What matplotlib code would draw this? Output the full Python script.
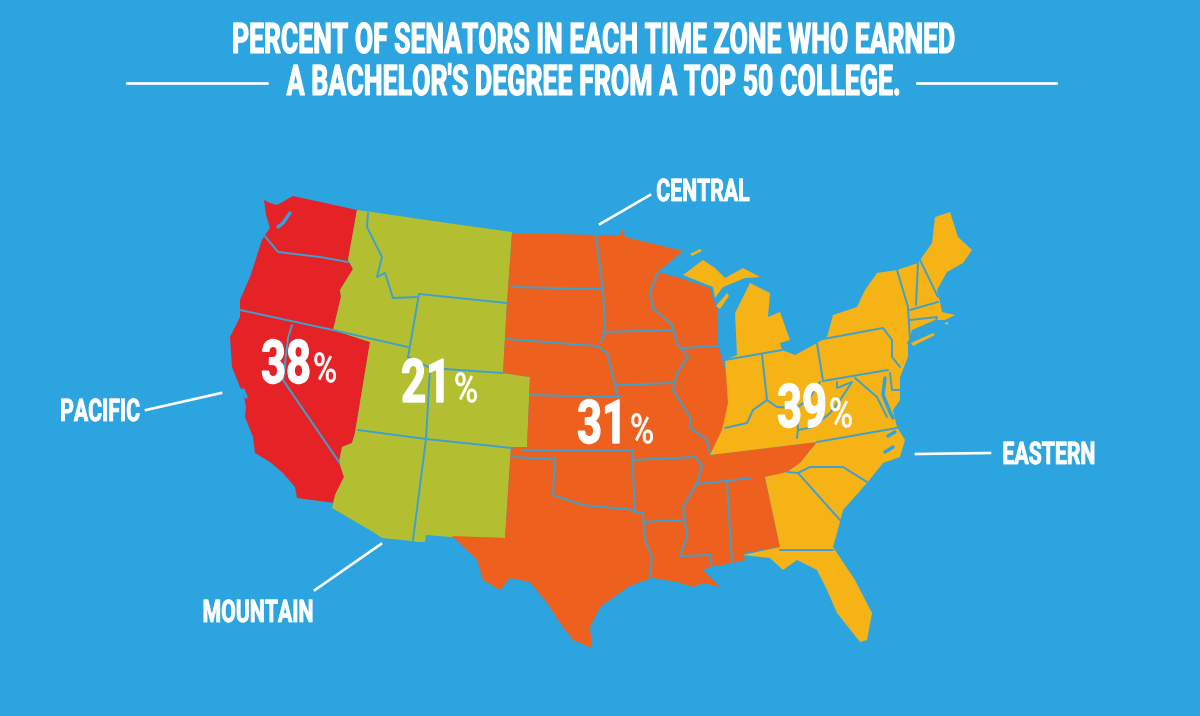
import matplotlib
matplotlib.use("Agg")
import matplotlib.pyplot as plt
from matplotlib.patches import Polygon
from matplotlib.patheffects import AbstractPathEffect
from matplotlib.text import Text
from matplotlib.transforms import Affine2D, Bbox

plt.rcParams['font.family'] = ['Roboto', 'DejaVu Sans']

BG = '#2ba4e0'
BORDER = '#3fa0cf'
RED = '#e52226'
GREEN = '#b3bf30'
ORANGE = '#ee601e'
YELLOW = '#f5b316'

# outlines in image pixels
pacific = [(264,200),(270,203),(277,205),(293,196),(357,210),(348,260),(353,269),(340,290),(341,297),(333,330),(370,342),
           (355,433),(352,443),(342,447),(339,462),(344,477),(335,495),(335,503),(297,498),(295,487),
           (283,473),(270,462),(255,453),(253,437),(245,417),(246,407),(243,392),(240,387),(232,367),(230,337),
           (240,317),(240,300),(250,277),(262,240),(265,235),(270,228),(266,215)]
mountain = [(357,210),(372,212),(440,222),(512,232),(507,303),(503,373),(530,377),(527,447),(511,447),
            (505,538),(450,537),(426,535),(425,542),(417,542),(412,541),(382,538),(373,532),(332,508),
            (335,495),(344,477),(339,462),(342,447),(352,443),(355,433),(370,342),(333,330),(341,297),
            (340,290),(353,269),(348,260)]
central = [(512,233),(597,235),(620,235),(622,228),(625,237),(650,243),(683,251),(658,272),(683,279),
           (710,288),(713,298),(717,308),(718,345),(727,377),(728,413),(723,428),(710,455),(817,442),
           (800,463),(787,472),(765,477),(780,547),(743,553),(745,560),(733,563),(710,567),(703,570),
           (713,580),(720,587),(703,583),(693,587),(677,582),(653,578),(640,582),(628,587),(600,607),(590,627),
           (592,648),(573,640),(560,623),(547,603),(530,582),(510,578),(500,590),(483,580),(477,560),
           (452,536),(505,538),(511,447),(527,447),(530,377),(503,373),(507,303)]
eastern = [(725,360),(737,355),(735,313),(750,283),(770,293),(768,317),(780,312),(790,340),(780,343),
           (782,350),(795,355),(817,343),(827,337),(833,315),(857,307),(865,290),(877,273),(897,270),
           (918,263),(932,243),(935,217),(950,212),(958,237),(972,250),(963,263),(947,272),(937,290),
           (940,302),(942,312),(955,315),(945,320),(935,320),(912,330),(908,343),(908,357),(900,377),
           (900,400),(893,410),(897,427),(905,440),(900,457),(883,463),(867,483),(843,510),(837,533),
           (833,547),(855,580),(872,613),(867,640),(860,642),(837,613),(827,590),(817,570),(797,560),
           (783,570),(770,558),(743,555),(780,547),(765,477),(787,472),(800,463),(817,442),(710,455),
           (722,430),(728,403)]
upper_michigan = [(683,275),(703,260),(715,268),(725,278),(743,268),(760,277),(745,278),(723,287),(715,298),(713,287)]
door_county = [(716,306),(727,293),(729,296),(720,309)]
isle_royale = [(690,254),(700,249),(702,251),(692,256)]
long_island = [(911,343),(933,333),(935,335),(913,346)]
nantucket = [(944,323),(948,322),(948,325)]

# state borders
pacific_lines = [
    [(264,235),(278,252),(320,257),(348,262)],
    [(240,310),(333,330)],
    [(292,325),(288,338),(283,380),(339,462)],
]
mountain_lines = [
    [(368,213),(367,227),(382,257),(377,277),(385,273),(393,298),(417,297)],
    [(419,294),(507,303)],
    [(419,294),(408,357)],
    [(333,330),(408,347)],
    [(408,357),(430,368),(503,373)],
    [(430,368),(426,439)],
    [(358,430),(426,439),(512,448)],
    [(426,439),(413,540)],
]
central_lines = [
    [(596,235),(603,290),(605,330),(601,343)],
    [(512,287),(603,289)],
    [(507,339),(597,346),(607,353),(618,397)],
    [(530,395),(620,397)],
    [(603,332),(672,330)],
    [(617,385),(672,383)],
    [(658,272),(650,292),(653,308),(672,325),(677,343),(688,357),(677,373),(673,390),(690,417),(690,428),(707,440),(710,453)],
    [(682,348),(718,346)],
    [(522,450),(632,450),(635,512),(643,513)],
    [(632,460),(695,457),(702,465),(697,483)],
    [(512,457),(555,459),(553,495),(583,505),(635,510)],
    [(643,522),(683,520)],
    [(697,483),(683,507),(687,537),(680,556),(710,555),(712,567)],
    [(643,513),(645,540),(652,557),(650,578)],
    [(697,484),(750,478)],
    [(727,482),(732,563)],
]
eastern_lines = [
    [(725,360),(782,350)],
    [(762,355),(767,400)],
    [(817,343),(823,381)],
    [(818,340),(883,328),(892,340),(892,357),(900,367)],
    [(823,381),(888,370)],
    [(725,428),(747,423),(753,410),(767,400),(777,407),(797,408),(810,397),(820,382)],
    [(797,408),(798,430),(797,438)],
    [(798,430),(813,427),(830,413),(840,400),(852,382),(837,388),(837,382)],
    [(855,378),(877,397),(887,417)],
    [(890,373),(892,390),(900,390)],
    [(817,442),(897,428)],
    [(787,472),(798,473),(810,467),(843,467),(867,482)],
    [(798,473),(840,520)],
    [(780,550),(833,550)],
    [(897,270),(908,307),(910,340),(908,343)],
    [(918,263),(916,305)],
    [(920,260),(938,297)],
    [(910,310),(938,302)],
    [(910,320),(937,317),(935,325)],
    [(910,337),(933,325)],
]
# water cut into the land
water_lines = [
    [(290,213),(283,223),(278,227)],
    [(243,390),(246,397)],
    [(885,378),(883,395),(890,412),(893,418)],
    [(893,447),(885,452)],
    [(895,432),(888,436)],
]

labels = ['PACIFIC', 'MOUNTAIN', 'CENTRAL', 'EASTERN']
label_pos = [(100, 421), (258, 622), (703, 201), (1049, 464)]
leaders = [[(146,410),(221,393)], [(315,590),(381,544)], [(600,224),(650,195)], [(916,454),(990,453)]]

percents = ['38', '21', '31', '39']
percent_pos = [(286, 383), (426, 402), (602, 443), (802, 427)]
percent_sign_pos = [(325, 382), (466, 402), (642, 443), (841, 427)]

title_lines = ['PERCENT OF SENATORS IN EACH TIME ZONE WHO EARNED', "A BACHELOR'S DEGREE FROM A TOP 50 COLLEGE."]
title_pos = [(594, 53), (594, 95)]
title_rules = [[(127,83),(267,83)], [(917,83),(1056,83)]]


class Squeeze(AbstractPathEffect):
    # no condensed font here, so squeeze the glyphs sideways around the text centre
    def __init__(self, text, sx, stroke):
        super().__init__()
        self.text = text
        self.sx = sx
        self.stroke = stroke

    def draw_path(self, renderer, gc, tpath, affine, rgbFace):
        cx = self.text.get_transform().transform(self.text.get_position())[0]
        aff = affine + Affine2D().translate(-cx, 0).scale(self.sx, 1).translate(cx, 0)
        gc0 = renderer.new_gc()
        gc0.copy_properties(gc)
        gc0.set_linewidth(self.stroke)
        gc0.set_foreground(rgbFace)
        renderer.draw_path(gc0, tpath, aff, rgbFace)
        gc0.restore()


class NarrowText(Text):
    def __init__(self, x, y, s, sx, stroke=0.0, **kw):
        super().__init__(x, y, s, ha='center', va='baseline', color='white', **kw)
        self.sx = sx
        self.set_path_effects([Squeeze(self, sx, stroke)])

    def get_window_extent(self, renderer=None, dpi=None):
        b = super().get_window_extent(renderer, dpi)
        cx = self.get_transform().transform(self.get_position())[0]
        return Bbox([[cx + (b.x0 - cx) * self.sx, b.y0], [cx + (b.x1 - cx) * self.sx, b.y1]])


fig = plt.figure(figsize=(12, 7.16), dpi=100, facecolor=BG)
ax = fig.add_axes([0, 0, 1, 1])
ax.set_xlim(0, 1200)
ax.set_ylim(716, 0)
ax.axis('off')

zones = [(pacific, RED), (mountain, GREEN), (central, ORANGE), (eastern, YELLOW), (upper_michigan, YELLOW),
         (door_county, YELLOW), (isle_royale, YELLOW), (long_island, YELLOW), (nantucket, YELLOW)]
for outline, colour in zones:
    ax.add_patch(Polygon(outline, closed=True, facecolor=colour, edgecolor='none', joinstyle='round'))

for group in [pacific_lines, mountain_lines, central_lines, eastern_lines]:
    for line in group:
        ax.plot([p[0] for p in line], [p[1] for p in line], color=BORDER, lw=1.4, solid_capstyle='round')

for line in water_lines:
    ax.plot([p[0] for p in line], [p[1] for p in line], color=BG, lw=2.5, solid_capstyle='round')

for seg in title_rules + leaders:
    ax.plot([p[0] for p in seg], [p[1] for p in seg], color='white', lw=1.9)

for line, pos, sx in zip(title_lines, title_pos, [0.625, 0.63]):
    ax.add_artist(NarrowText(pos[0], pos[1], line, sx, stroke=0.8, fontsize=30.5, fontweight='bold'))

for name, pos in zip(labels, label_pos):
    ax.add_artist(NarrowText(pos[0], pos[1], name, 0.68, stroke=0.6, fontsize=22.5, fontweight='bold'))

for p, pos, spos in zip(percents, percent_pos, percent_sign_pos):
    ax.add_artist(NarrowText(pos[0], pos[1], p, 0.72, stroke=1.0, fontsize=43.5, fontweight='bold'))
    ax.add_artist(NarrowText(spos[0], spos[1], '%', 0.8, stroke=0.5, fontsize=29.5))

fig.savefig('out.png', dpi=100, facecolor=BG)
